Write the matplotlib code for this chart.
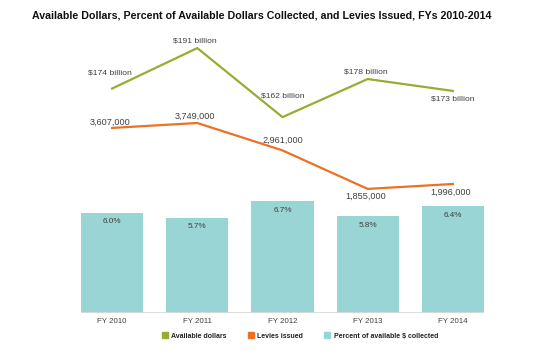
import matplotlib
matplotlib.use("Agg")
import matplotlib.pyplot as plt
from matplotlib.patches import Patch

plt.rcParams['font.family'] = ['Liberation Sans', 'DejaVu Sans']

years = ["FY 2010", "FY 2011", "FY 2012", "FY 2013", "FY 2014"]
pct_collected = [6.0, 5.7, 6.7, 5.8, 6.4]
available_bn = [174, 191, 162, 178, 173]
levies = [3607000, 3749000, 2961000, 1855000, 1996000]

green = "#98AC32"
orange = "#EA7125"
teal = "#99D5D4"
txt = "#404040"

fig = plt.figure(figsize=(5.55, 3.63), dpi=100)
rect = [81 / 555, 50 / 363, 403 / 555, 273 / 363]
ax = fig.add_axes(rect)
x = list(range(len(years)))

ax.bar(x, pct_collected, width=0.73, color=teal, zorder=2)
ax.set_xlim(-0.365, 4.365)
ax.set_ylim(0, 16.35)
for xi, v in zip(x, pct_collected):
    ax.annotate(f"{v:.1f}%", (xi, v), xytext=(0, -6.5), textcoords="offset points",
                ha="center", va="center", fontsize=5.9, color=txt)
ax.axhline(0, color="#d9d9d9", lw=2, zorder=3)
ax.set_xticks(x)
ax.set_xticklabels(years, fontsize=5.7, color=txt)
ax.tick_params(axis="x", length=0, pad=3.5)
ax.set_yticks([])
for s in ax.spines.values():
    s.set_visible(False)

# available dollars line
ax2 = fig.add_axes(rect, sharex=ax)
ax2.patch.set_visible(False)
ax2.axis("off")
ax2.set_ylim(79.7, 194.4)
ax2.plot(x, available_bn, color=green, lw=1.6)
g_off = [(-1.5, 11.5), (-1.5, 5), (0, 15), (-1.5, 5), (0, -5.8)]
for xi, v, off in zip(x, available_bn, g_off):
    ax2.annotate(f"${v} billion", (xi, v), xytext=off, textcoords="offset points",
                 ha="center", va="center", fontsize=6.1, color=txt)

# levies line
ax3 = fig.add_axes(rect, sharex=ax)
ax3.patch.set_visible(False)
ax3.axis("off")
ax3.set_ylim(-1711000, 6134000)
ax3.plot(x, levies, color=orange, lw=1.6)
o_off = [(-1.5, 4.3), (-2, 5), (0, 7), (-1.5, -5), (-1.5, -5.8)]
for xi, v, off in zip(x, levies, o_off):
    ax3.annotate(f"{v:,}", (xi, v), xytext=off, textcoords="offset points",
                 ha="center", va="center", fontsize=6.6, color=txt)
ax3.set_xlim(-0.365, 4.365)

fig.text(262 / 555, 1 - 15 / 363, "Available Dollars, Percent of Available Dollars Collected, and Levies Issued, FYs 2010-2014",
         ha="center", va="center", fontsize=7.65, fontweight="bold", color="#111111")

handles = [Patch(color=green), Patch(color=orange), Patch(color=teal)]
labels = ["Available dollars", "Levies issued", "Percent of available $ collected"]
fig.legend(handles, labels, loc="center", bbox_to_anchor=(300 / 555, 1 - 336 / 363), ncol=3,
           frameon=False, prop={"size": 5, "weight": "bold"}, handlelength=0.9, handleheight=0.9,
           handletextpad=0.5, columnspacing=3.0, labelcolor="#222222")

fig.savefig("out.png", dpi=100)
